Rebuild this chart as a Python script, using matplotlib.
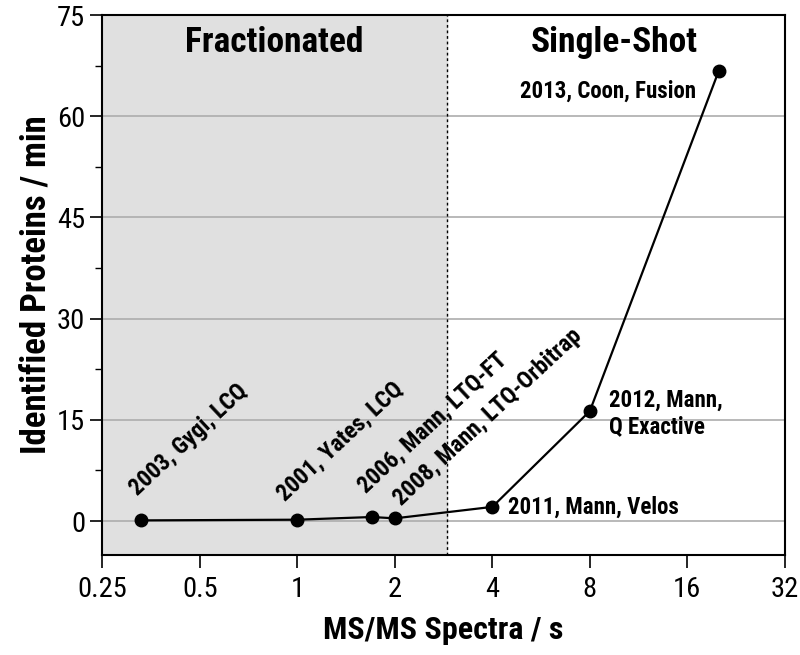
import numpy as np
import matplotlib
matplotlib.use("Agg")
import matplotlib.pyplot as plt
from matplotlib import font_manager as fm
from matplotlib.ticker import LogLocator, FixedLocator, FixedFormatter, MultipleLocator, NullFormatter

# Pick a narrow family if one is installed
installed = {f.name for f in fm.fontManager.ttflist}
candidates = ["Roboto Condensed", "Liberation Sans Narrow", "DejaVu Sans Condensed",
              "Open Sans Condensed", "Noto Sans Condensed", "Roboto"]
family = next((c for c in candidates if c in installed), "DejaVu Sans")
plt.rcParams["font.family"] = [family, "DejaVu Sans"]

# Data
spectra_per_s = [0.33, 1.0, 1.7, 2.0, 4.0, 8.0, 20.0]
proteins_per_min = [0.1, 0.2, 0.6, 0.4, 2.1, 16.3, 66.7]
labels = ["2003, Gygi, LCQ", "2001, Yates, LCQ", "2006, Mann, LTQ-FT",
          "2008, Mann, LTQ-Orbitrap", "2011, Mann, Velos",
          "2012, Mann,\nQ Exactive", "2013, Coon, Fusion"]
x_ticks = [0.25, 0.5, 1, 2, 4, 8, 16, 32]
x_tick_labels = ["0.25", "0.5", "1", "2", "4", "8", "16", "32"]
y_ticks = [0, 15, 30, 45, 60, 75]
split_x = 2.9

fig, ax = plt.subplots(figsize=(8, 6.55), dpi=100)
fig.subplots_adjust(left=0.128, right=0.981, top=0.977, bottom=0.153)

ax.set_xscale("log", base=2)
ax.set_xlim(0.25, 32)
ax.set_ylim(-5, 75)

# Shaded fractionated region and divider
ax.axvspan(0.25, split_x, color="#e0e0e0", zorder=0)
ax.axvline(split_x, color="black", linestyle=(0, (2, 2)), linewidth=1, zorder=2)

# Grid lines
for y in y_ticks[:-1]:
    ax.axhline(y, color="#adadad", linewidth=1.2, zorder=1)

ax.plot(spectra_per_s, proteins_per_min, color="black", linewidth=1.6,
        marker="o", markersize=9, zorder=4)

# Rotated labels for the early instruments (offsets in points)
rot_offsets = [(-3, 17), (-9, 13), (-4, 17), (5, 9)]
for i, (dx, dy) in enumerate(rot_offsets):
    ax.annotate(labels[i], (spectra_per_s[i], proteins_per_min[i]),
                xytext=(dx, dy), textcoords="offset points",
                rotation=43, rotation_mode="anchor", ha="left", va="baseline",
                fontsize=17, fontweight="bold", zorder=5)

ax.annotate(labels[4], (spectra_per_s[4], proteins_per_min[4]),
            xytext=(11, 0), textcoords="offset points",
            ha="left", va="center", fontsize=16.5, fontweight="bold")
ax.annotate(labels[5], (spectra_per_s[5], proteins_per_min[5]),
            xytext=(14, -1.5), textcoords="offset points",
            ha="left", va="center", fontsize=16.5, fontweight="bold", linespacing=1.2)
ax.annotate(labels[6], (spectra_per_s[6], proteins_per_min[6]),
            xytext=(-16.5, -14.5), textcoords="offset points",
            ha="right", va="center", fontsize=16.5, fontweight="bold")

ax.text(0.85, 71, "Fractionated", ha="center", va="center",
        fontsize=25.5, fontweight="bold")
ax.text(9.5, 71, "Single-Shot", ha="center", va="center",
        fontsize=25.5, fontweight="bold")

# Axes styling
ax.xaxis.set_major_locator(FixedLocator(x_ticks))
ax.xaxis.set_major_formatter(FixedFormatter(x_tick_labels))
ax.xaxis.set_minor_locator(LogLocator(base=2, subs=np.arange(1.1, 2.0, 0.1)))
ax.xaxis.set_minor_formatter(NullFormatter())
ax.yaxis.set_major_locator(FixedLocator(y_ticks))
ax.yaxis.set_minor_locator(MultipleLocator(7.5))

ax.tick_params(axis="both", which="major", length=9, width=1.2, labelsize=20.5, direction="out")
ax.tick_params(axis="both", which="minor", length=5, width=1, direction="out")
ax.tick_params(axis="x", pad=6)
for spine in ax.spines.values():
    spine.set_linewidth(1.5)

ax.set_xlabel("MS/MS Spectra / s", fontsize=23, fontweight="bold", labelpad=9)
ax.set_ylabel("Identified Proteins / min", fontsize=25, fontweight="bold", labelpad=3)

fig.savefig("out.png", dpi=100)
